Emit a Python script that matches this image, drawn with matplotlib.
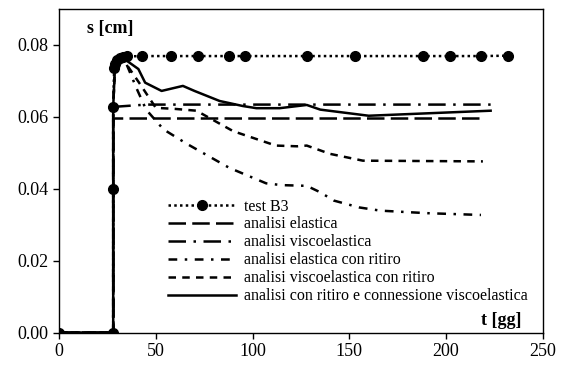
import numpy as np
import matplotlib.pyplot as plt

plt.rcParams['font.family'] = ['Liberation Serif', 'DejaVu Serif']

# test B3 (misure)
t_test = [0, 28, 28, 28, 28.5, 29, 30, 31.5, 33, 35, 43, 58, 72, 88, 96, 128, 153, 188, 202, 218, 232]
s_test = [0, 0, 0.0398, 0.0628, 0.0735, 0.0748, 0.0758, 0.0763, 0.0765, 0.0768, 0.0769,
          0.0769, 0.0769, 0.0769, 0.0769, 0.0769, 0.0769, 0.0769, 0.0769, 0.0769, 0.0770]

# analisi elastica
t_el = [0, 28, 28, 29, 218]
s_el = [0, 0, 0.0598, 0.0598, 0.0598]

# analisi viscoelastica
t_ve = [0, 28, 28, 29, 45, 80, 223]
s_ve = [0, 0, 0.0628, 0.0628, 0.0634, 0.0634, 0.0634]

# analisi elastica con ritiro
t_elr = [0, 28, 28, 29, 31, 35, 40, 45, 54, 66, 88, 107, 115, 128, 135, 142, 155, 166, 190, 218]
s_elr = [0, 0, 0.0628, 0.075, 0.0765, 0.0745, 0.068, 0.062, 0.0565, 0.0525, 0.0458, 0.0415,
         0.041, 0.0408, 0.039, 0.0367, 0.0348, 0.0339, 0.0332, 0.0327]

# analisi viscoelastica con ritiro
t_ver = [0, 28, 28, 29, 31, 35, 42, 50, 60, 71, 90, 112, 123, 128, 140, 157, 219]
s_ver = [0, 0, 0.0628, 0.075, 0.0766, 0.0745, 0.069, 0.0625, 0.0622, 0.0617, 0.056,
         0.052, 0.0518, 0.052, 0.0497, 0.0478, 0.0476]

# analisi con ritiro e connessione viscoelastica
t_cv = [0, 28, 28, 29, 31, 35, 41, 44.5, 53, 64, 70, 83, 95, 102, 114, 128, 135, 160, 223]
s_cv = [0, 0, 0.0628, 0.075, 0.0765, 0.0756, 0.0733, 0.0695, 0.0672, 0.0686, 0.0672,
        0.0644, 0.063, 0.0624, 0.0624, 0.0633, 0.062, 0.0603, 0.0617]

fig = plt.figure(figsize=(5.62, 3.66), dpi=100)
ax = fig.add_axes([0.105, 0.0915, 0.861, 0.884])

lw = 1.8
ax.plot(t_el, s_el, color='k', lw=lw, dashes=(7, 2.5), label='analisi elastica')
ax.plot(t_ve, s_ve, color='k', lw=lw, dashes=(7, 3, 1, 3), label='analisi viscoelastica')
ax.plot(t_elr, s_elr, color='k', lw=lw, dashes=(3.5, 3, 1, 3), label='analisi elastica con ritiro')
ax.plot(t_ver, s_ver, color='k', lw=lw, dashes=(3, 2.5), label='analisi viscoelastica con ritiro')
ax.plot(t_cv, s_cv, color='k', lw=lw, label='analisi con ritiro e connessione viscoelastica')
ax.plot(t_test, s_test, color='k', lw=lw, ls=(0, (1, 1.3)), marker='o', ms=7,
        label='test B3', zorder=5)

ax.set_xlim(0, 250)
ax.set_ylim(0, 0.09)
ax.set_xticks(np.arange(0, 251, 50))
ax.set_yticks(np.arange(0, 0.081, 0.02))
ax.set_yticklabels(['%.2f' % v for v in np.arange(0, 0.081, 0.02)])
ax.tick_params(labelsize=13, direction='out', length=4, width=1, colors='k')
for sp in ax.spines.values():
    sp.set_linewidth(1)

ax.text(0.058, 0.965, 's [cm]', transform=ax.transAxes, fontsize=13, fontweight='bold',
        va='top', ha='left')
ax.text(0.955, 0.01, 't [gg]', transform=ax.transAxes, fontsize=13, fontweight='bold',
        va='bottom', ha='right')

handles, labels = ax.get_legend_handles_labels()
order = [5, 0, 1, 2, 3, 4]
ax.legend([handles[i] for i in order], [labels[i] for i in order],
          loc='lower left', bbox_to_anchor=(0.208, 0.063), frameon=False, fontsize=11.5,
          handlelength=4.3, handletextpad=0.5, labelspacing=0.12, borderpad=0)

fig.savefig('out.png', dpi=100)
